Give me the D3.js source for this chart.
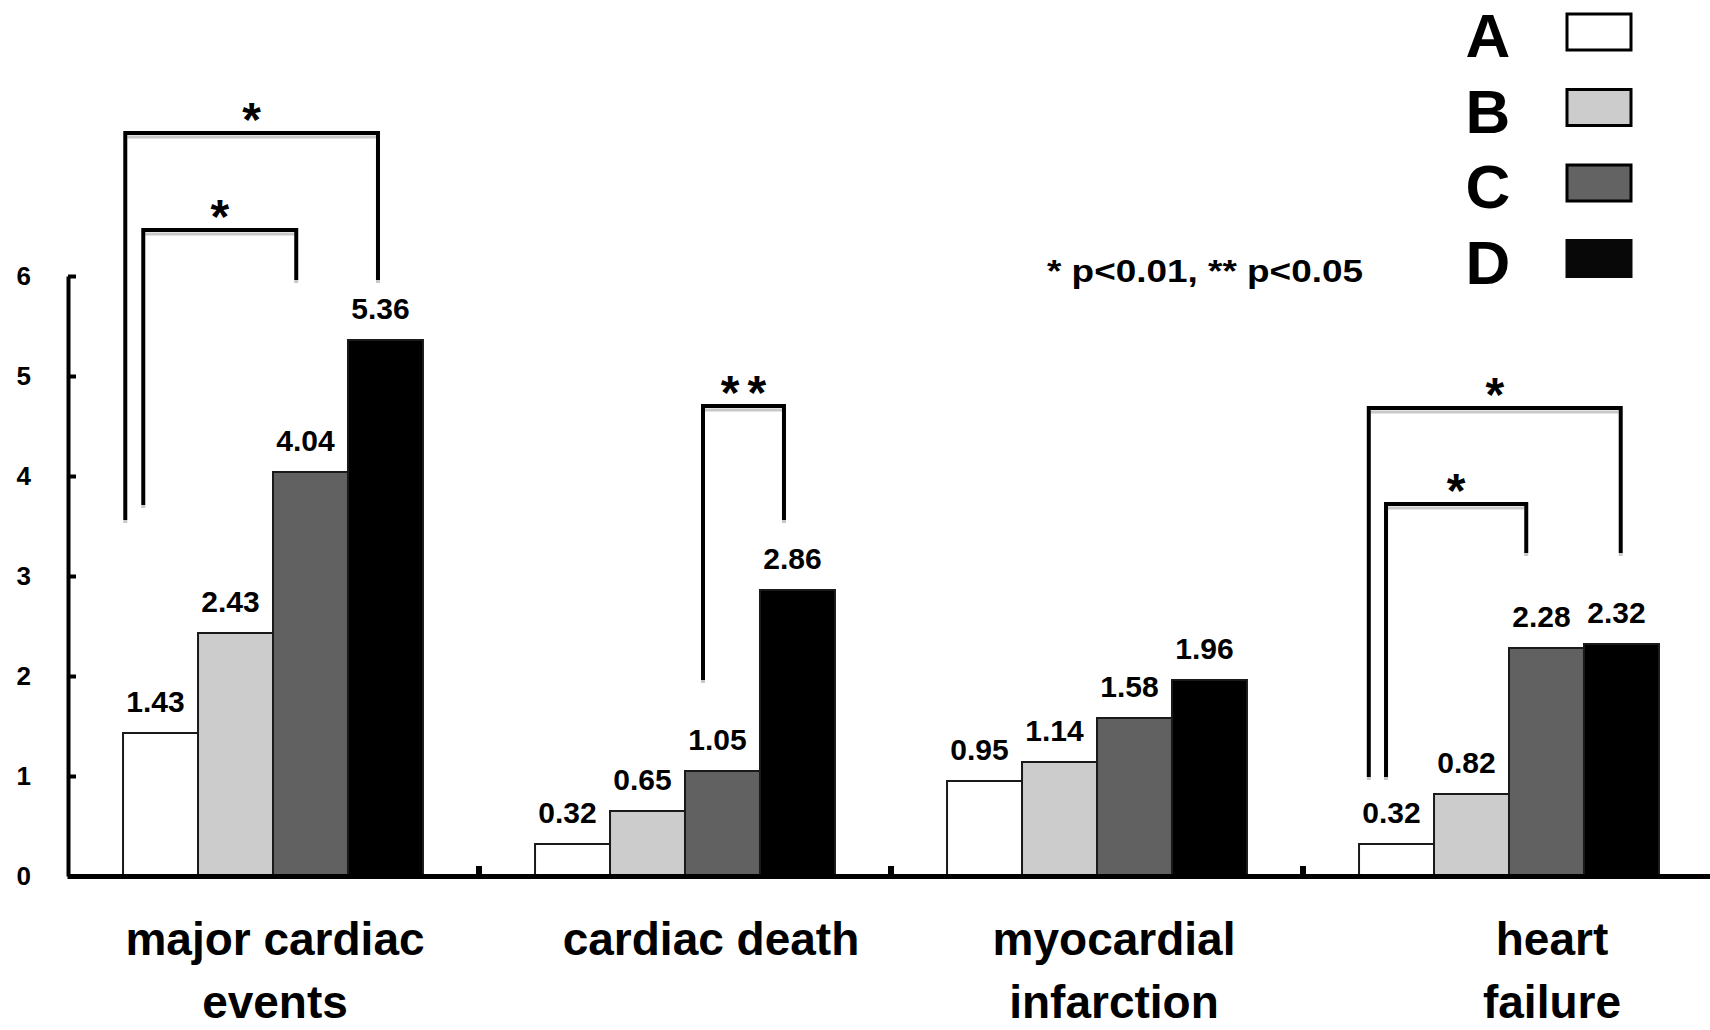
<!DOCTYPE html>
<html>
<head>
<meta charset="utf-8">
<script src="https://d3js.org/d3.v7.min.js"></script>
<style>
  body { margin: 0; background: #fff; }
  text { font-family: "Liberation Sans", Arial, sans-serif; font-weight: bold; fill: #000; }
</style>
</head>
<body>
<svg id="chart" width="1710" height="1030"></svg>
<script>
  // data
  const categories = ["major cardiac events", "cardiac death", "myocardial infarction", "heart failure"];
  const categoryLines = [["major cardiac", "events"], ["cardiac death"], ["myocardial", "infarction"], ["heart", "failure"]];
  const groups = ["A", "B", "C", "D"];
  const valuesA = [1.43, 0.32, 0.95, 0.32];
  const valuesB = [2.43, 0.65, 1.14, 0.82];
  const valuesC = [4.04, 1.05, 1.58, 2.28];
  const valuesD = [5.36, 2.86, 1.96, 2.32];
  const yTicks = [0, 1, 2, 3, 4, 5, 6];
  const note = "* p<0.01, ** p<0.05";

  // significance brackets, heights in data units
  const brackets = [
    { cat: "major cardiac events", from: "A", to: "D", top: 7.43, fromEnd: 3.56, toEnd: 5.96, mark: "*" },
    { cat: "major cardiac events", from: "A", to: "C", top: 6.46, fromEnd: 3.71, toEnd: 5.96, mark: "*" },
    { cat: "cardiac death", from: "C", to: "D", top: 4.70, fromEnd: 1.96, toEnd: 3.56, mark: "**" },
    { cat: "heart failure", from: "A", to: "D", top: 4.68, fromEnd: 0.99, toEnd: 3.23, mark: "*" },
    { cat: "heart failure", from: "A", to: "C", top: 3.72, fromEnd: 0.99, toEnd: 3.23, mark: "*" }
  ];

  const series = [valuesA, valuesB, valuesC, valuesD];
  const table = categories.map((c, i) => ({
    category: c,
    bars: groups.map((g, j) => ({ category: c, group: g, value: series[j][i] }))
  }));

  const fills = { A: "#ffffff", B: "#cccccc", C: "#616161", D: "#000000" };
  const legendFills = { A: "#ffffff", B: "#cccccc", C: "#636363", D: "#080808" };

  const svg = d3.select("#chart");

  const y = d3.scaleLinear().domain([0, 6]).range([876, 276]);
  const x0 = d3.scaleBand().domain(categories).range([67, 1715])
    .paddingInner(0.272).paddingOuter(0.136);
  const x1 = d3.scaleBand().domain(groups).range([0, x0.bandwidth()]);

  // bars
  const slice = svg.selectAll(".slice")
    .data(table)
    .enter().append("g")
    .attr("class", "slice")
    .attr("transform", d => `translate(${x0(d.category)},0)`);

  slice.selectAll("rect")
    .data(d => d.bars)
    .enter().append("rect")
    .attr("x", d => x1(d.group))
    .attr("y", d => y(d.value))
    .attr("width", x1.bandwidth())
    .attr("height", d => y(0) - y(d.value))
    .style("fill", d => fills[d.group])
    .style("stroke", "#1a1a1a")
    .style("stroke-width", 2);

  slice.selectAll(".val")
    .data(d => d.bars)
    .enter().append("text")
    .attr("class", "val")
    .attr("x", d => x1(d.group) + x1.bandwidth() / 2 - 5)
    .attr("y", d => y(d.value) - 21)
    .attr("text-anchor", "middle")
    .style("font-size", "30px")
    .text(d => d.value.toFixed(2));

  // y axis
  const yAxis = svg.append("g")
    .attr("transform", "translate(68,0)")
    .call(d3.axisLeft(y).tickValues(yTicks).tickSize(-8).tickSizeOuter(0)
      .tickPadding(37).tickFormat(d3.format("d")));
  yAxis.select(".domain").attr("stroke", "#000").attr("stroke-width", 4);
  yAxis.selectAll(".tick line").attr("stroke", "#000").attr("stroke-width", 4);
  yAxis.selectAll(".tick text").attr("fill", "#000")
    .style("font-size", "26px").style("font-family", "Liberation Sans, Arial, sans-serif").style("font-weight", "bold");

  // x axis
  const xAxis = svg.append("g")
    .attr("transform", `translate(0,${y(0)})`)
    .call(d3.axisBottom(x0).tickSize(0).tickSizeOuter(0).tickFormat(""));
  xAxis.select(".domain").attr("stroke", "#000").attr("stroke-width", 5);

  // small ticks between categories
  const gap = x0.step() * x0.paddingInner() / 2;
  xAxis.selectAll(".sep")
    .data(categories.slice(1))
    .enter().append("line")
    .attr("x1", d => x0(d) - gap)
    .attr("x2", d => x0(d) - gap)
    .attr("y1", 0)
    .attr("y2", -10)
    .attr("stroke", "#000")
    .attr("stroke-width", 6);

  // category labels (slight nudges as in the figure)
  const labelNudge = [2, 26, 17, 43];
  categories.forEach((c, i) => {
    const t = svg.append("text")
      .attr("text-anchor", "middle")
      .style("font-size", "46px");
    categoryLines[i].forEach((line, k) => {
      t.append("tspan")
        .attr("x", x0(c) + x0.bandwidth() / 2 + labelNudge[i])
        .attr("y", 955 + k * 63)
        .text(line);
    });
  });

  // brackets
  const bracketFrac = [[0.03, 0.40], [0.27, 0.31], [0.24, 0.32], [0.13, 0.49], [0.36, 0.23]];
  brackets.forEach((b, i) => {
    const xa = x0(b.cat) + x1(b.from) + bracketFrac[i][0] * x1.bandwidth();
    const xb = x0(b.cat) + x1(b.to) + bracketFrac[i][1] * x1.bandwidth();
    const yt = y(b.top);
    const g = svg.append("g");
    // grey shadow under the bar and at the ends
    g.append("line")
      .attr("x1", xa + 2).attr("x2", xb - 2)
      .attr("y1", yt + 4).attr("y2", yt + 4)
      .attr("stroke", "#c8c8c8").attr("stroke-width", 3);
    [[xa, b.fromEnd], [xb, b.toEnd]].forEach(([xx, v]) => {
      g.append("line")
        .attr("x1", xx).attr("x2", xx)
        .attr("y1", y(v)).attr("y2", y(v) + 3)
        .attr("stroke", "#c8c8c8").attr("stroke-width", 4);
    });
    g.append("path")
      .attr("d", `M${xa},${y(b.fromEnd)}V${yt}H${xb}V${y(b.toEnd)}`)
      .attr("fill", "none")
      .attr("stroke", "#000")
      .attr("stroke-width", 4);
    g.append("text")
      .attr("x", (xa + xb) / 2 + (b.mark.length > 1 ? 4 : 0))
      .attr("y", yt + 3)
      .attr("text-anchor", "middle")
      .style("font-size", "48px")
      .style("letter-spacing", b.mark.length > 1 ? "8px" : "0px")
      .text(b.mark);
  });

  // note
  svg.append("text")
    .attr("x", 1047)
    .attr("y", 282)
    .attr("textLength", 316)
    .attr("lengthAdjust", "spacingAndGlyphs")
    .style("font-size", "32px")
    .text(note);

  // legend
  const legend = svg.selectAll(".legend")
    .data(groups)
    .enter().append("g")
    .attr("class", "legend")
    .attr("transform", (d, i) => `translate(0,${i * 75.5})`);

  legend.append("text")
    .attr("x", 1488)
    .attr("y", 57)
    .attr("text-anchor", "middle")
    .style("font-size", "62px")
    .text(d => d);

  legend.append("rect")
    .attr("x", 1567)
    .attr("y", 14)
    .attr("width", 64)
    .attr("height", 36)
    .style("fill", d => legendFills[d])
    .style("stroke", d => d === "D" ? "#080808" : "#000")
    .style("stroke-width", 3);
</script>
</body>
</html>
